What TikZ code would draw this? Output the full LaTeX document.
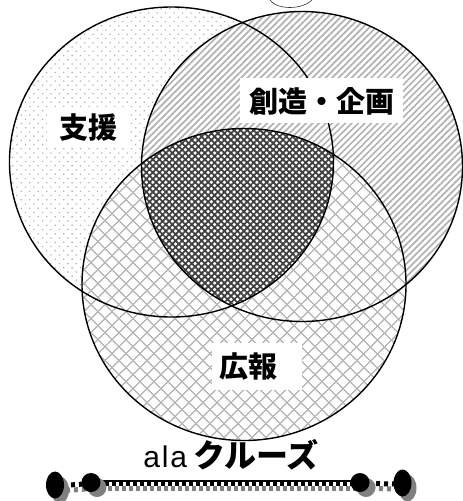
\documentclass[tikz,border=0pt]{standalone}
\usepackage{fontspec}
\newfontfamily\jp{Noto Sans CJK JP}
\newfontfamily\lat{Liberation Sans}[LetterSpace=6]
\usetikzlibrary{patterns.meta,shapes.geometric,shadows,backgrounds}
\tikzset{
  venn/.style={draw=black, line width=1.4pt},
  dotfill/.style={preaction={fill=white}, pattern={Dots[angle=45, distance=6pt, radius=0.9pt]}, pattern color=gray!60},
  linefill/.style={preaction={fill=white}, pattern={Lines[angle=45, distance=4.6pt, line width=1.7pt]}, pattern color=gray!60},
  hatchfill/.style={preaction={fill=white}, pattern={Hatch[angle=45, distance=10.5pt, line width=1.4pt]}, pattern color=gray!55},
  densefill/.style={preaction={fill=white}, pattern={Hatch[angle=45, distance=4.6pt, line width=1.8pt]}, pattern color=black!75},
  lbl/.style={font=\jp\bfseries\fontsize{29}{29}\selectfont, inner sep=0pt},
  wbox/.style={fill=white, inner sep=0pt},
  bigdot/.style={ellipse, fill=black, inner sep=0pt, minimum width=18pt, minimum height=27pt,
    general shadow={fill=black!50, shadow xshift=5pt, shadow yshift=-5pt}},
  ball/.style={circle, fill=black, inner sep=0pt, minimum size=19pt,
    general shadow={fill=black!50, shadow xshift=6pt, shadow yshift=-5pt}},
  chain/.style={line width=5pt, dash pattern=on 4pt off 3pt},
  chainshadow/.style={black!50, line width=5pt, dash pattern=on 4pt off 3pt},
  shortchain/.style={line width=5pt, dash pattern=on 4pt off 4pt},
}
\begin{document}
\begin{tikzpicture}[x=1pt,y=-1pt]
\useasboundingbox (0,0) rectangle (463,501);
% small curve at top
\draw[gray!40!black, line width=0.6pt] (270,0) .. controls (277,10) and (302,10) .. (312,0);
% circles
\path[dotfill] (171.5,162) ellipse [x radius=162, y radius=155];
\path[linefill] (302,166.5) ellipse [x radius=160.5, y radius=155];
\path[hatchfill] (244,284.5) ellipse [x radius=162, y radius=156];
\begin{scope}
  \clip (171.5,162) ellipse [x radius=162, y radius=155];
  \clip (302,166.5) ellipse [x radius=160.5, y radius=155];
  \path[densefill] (244,284.5) ellipse [x radius=162, y radius=156];
\end{scope}
\draw[venn] (171.5,162) ellipse [x radius=162, y radius=155];
\draw[venn] (302,166.5) ellipse [x radius=160.5, y radius=155];
\draw[venn] (244,284.5) ellipse [x radius=162, y radius=156];
% labels
\node[wbox, minimum width=81pt, minimum height=40pt] (b1) at (87.5,127) {};
\node[lbl] (shien) at (88,128) {支援};
\node[wbox, minimum width=163pt, minimum height=45pt] (b2) at (321.5,100.5) {};
\node[lbl] (sozo) at (322,101) {創造・企画};
\node[wbox, minimum width=90pt, minimum height=47pt] (b3) at (257,366.5) {};
\node[lbl] (koho) at (248,367) {広報};
% title
\node[inner sep=0pt] (title) at (231,455) {{\lat\fontsize{30}{30}\selectfont ala}\hspace{6pt}{\jp\bfseries\fontsize{32}{32}\selectfont クルーズ}};
% bottom chain
\node[bigdot] (dL) at (55,485) {};
\node[ball] (bL) at (91,482.5) {};
\node[ball] (bR) at (360,482.5) {};
\node[bigdot] (dR) at (402.5,483) {};
\begin{scope}[on background layer]
  \draw[chainshadow] ([xshift=3pt,yshift=-6pt]bL.center) -- ([xshift=3pt,yshift=-6pt]bR.center);
  \draw[chainshadow, dash pattern=on 4pt off 4pt] ([xshift=3pt,yshift=-6pt]dL.center) -- ([xshift=3pt,yshift=-6pt]bL.center);
  \draw[chainshadow, dash pattern=on 4pt off 4pt] ([xshift=3pt,yshift=-6pt]bR.center) -- ([xshift=3pt,yshift=-6pt]dR.center);
  \draw[chain] ([yshift=-1pt]bL.center) -- ([yshift=-1pt]bR.center);
  \draw[line width=1.5pt] ([yshift=1.5pt]bL.center) -- ([yshift=1.5pt]bR.center);
  \draw[shortchain] ([yshift=-1pt]dL.center) -- ([yshift=-1pt]bL.center);
  \draw[shortchain] ([yshift=-1pt]bR.center) -- ([yshift=-1pt]dR.center);
\end{scope}
\end{tikzpicture}
\end{document}
